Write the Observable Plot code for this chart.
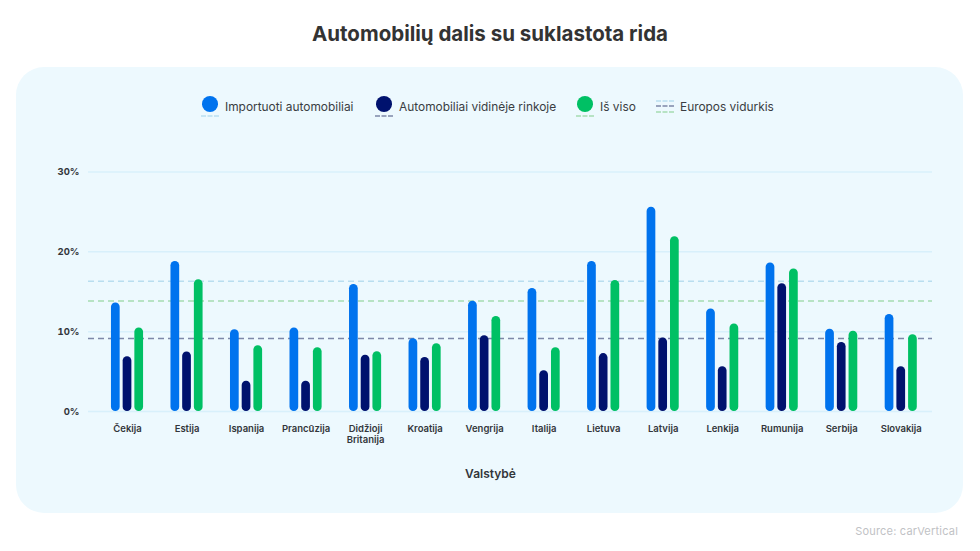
<!DOCTYPE html>
<html lang="lt">
<head>
<meta charset="utf-8">
<script src="https://cdn.jsdelivr.net/npm/d3@7"></script>
<script src="https://cdn.jsdelivr.net/npm/@observablehq/plot@0.6"></script>
<style>
  html, body { margin: 0; padding: 0; background: #fff; }
  body { font-family: Inter, "Noto Sans", sans-serif; }
  #wrap { position: relative; width: 980px; height: 551px; overflow: hidden; }
  #panel { position: absolute; left: 16px; top: 67px; width: 947px; height: 446px; border-radius: 28px; background: #edf9fe; }
  #title { position: absolute; left: 0; width: 980px; top: 20px; text-align: center; font-size: 20.5px; line-height: 28px; font-weight: 700; color: #333; }
  #source { position: absolute; right: 22px; top: 523px; font-size: 11px; line-height: 16px; color: #bfc2c5; letter-spacing: .2px; }
  #chart { position: absolute; left: 0; top: 0; }
  #chart svg { background: transparent; display: block; }
  .lg { position: absolute; top: 96px; height: 24px; }
  .lg i { position: absolute; left: 0; top: 0; width: 16px; height: 15.5px; border-radius: 50%; }
  .lg span { position: absolute; top: 1.5px; line-height: 18px; font-size: 11.9px; color: #3a3d42; white-space: nowrap; }
  .lg svg { position: absolute; overflow: visible; }
</style>
</head>
<body>
<div id="wrap">
  <div id="panel"></div>
  <div id="title">Automobilių dalis su suklastota rida</div>
  <div id="chart"></div>
  <div id="legend"></div>
  <div id="source">Source: carVertical</div>
</div>
<script>
const countries = ["Čekija","Estija","Ispanija","Prancūzija","Didžioji\nBritanija","Kroatija","Vengrija","Italija","Lietuva","Latvija","Lenkija","Rumunija","Serbija","Slovakija"];
const imported = [13.6,18.8,10.25,10.45,15.9,9.1,13.8,15.4,18.8,25.6,12.85,18.6,10.3,12.15];
const domestic = [6.85,7.45,3.8,3.8,7.05,6.75,9.5,5.1,7.25,9.2,5.6,16.0,8.65,5.6];
const total = [10.45,16.5,8.25,8.0,7.5,8.5,11.9,8.0,16.4,21.9,10.95,17.85,10.05,9.6];
const seriesNames = ["Importuoti automobiliai","Automobiliai vidinėje rinkoje","Iš viso"];
const seriesColors = ["#0073ee","#00126e","#00c064"];
const europeAvg = [16.3,9.15,13.85];
const avgColors = ["#b9deef","#7d88a8","#a5dcb1"];
const yTicks = [0,10,20,30];
const offsets = [-11.7,0,11.7];
const seriesValues = [imported,domestic,total];

const rows = vals => countries.map((c,i) => ({c, v: vals[i]}));
const plot = Plot.plot({
  width: 980, height: 551,
  marginLeft: 88, marginRight: 48, marginTop: 171.5, marginBottom: 140,
  style: {background: "transparent", fontFamily: "Inter, sans-serif"},
  x: {domain: countries, range: [97.25, 930.5], padding: 0, round: false, label: null},
  y: {domain: [0,30], label: null},
  marks: [
    Plot.ruleY(yTicks, {stroke: "#d8f0fb", strokeWidth: 1.5}),
    ...europeAvg.map((a,i) => Plot.ruleY([a], {stroke: avgColors[i], strokeWidth: 1.5, strokeDasharray: "6,4"})),
    ...seriesValues.map((vals,i) => Plot.barY(rows(vals), {
      x: "c", y: "v", fill: seriesColors[i], dx: offsets[i],
      insetLeft: 25.4, insetRight: 25.4, rx: 4.3
    })),
    Plot.axisY({ticks: yTicks, tickFormat: d => d + "%", tickSize: 0, tickPadding: 9, label: null,
      fontSize: 9.5, fontWeight: 700, fill: "#33363b"}),
    Plot.axisX({tickSize: 0, tickPadding: 12, label: null, lineHeight: 1.2, lineAnchor: "top",
      fontSize: 9.5, fontWeight: 600, fill: "#33363b"}),
    Plot.text(["Valstybė"], {frameAnchor: "bottom", dx: -20, dy: 66, fontSize: 12, fontWeight: 600, fill: "#33363b"})
  ]
});
document.getElementById("chart").appendChild(plot);

const legendItems = [
  {left: 201, color: 0},
  {left: 375, color: 1},
  {left: 576, color: 2}
];
const lg = document.getElementById("legend");
legendItems.forEach((it,i) => {
  const d = document.createElement("div");
  d.className = "lg";
  d.style.left = it.left + "px";
  d.innerHTML = `<i style="left:1px;background:${seriesColors[it.color]}"></i>
    <span style="left:24px">${seriesNames[i]}</span>
    <svg width="18" height="2" style="left:0;top:19px"><line x1="0" x2="18" y1="1" y2="1" stroke="${avgColors[i === 0 ? 0 : i === 1 ? 1 : 2]}" stroke-width="1.5" stroke-dasharray="5,1.5"/></svg>`;
  lg.appendChild(d);
});
const e = document.createElement("div");
e.className = "lg";
e.style.left = "656px";
e.innerHTML = `<span style="left:24px">Europos vidurkis</span>` + avgColors.map((c,i) =>
  `<svg width="18" height="2" style="left:0;top:${[4,9,15][i]}px"><line x1="0" x2="18" y1="1" y2="1" stroke="${c}" stroke-width="1.5" stroke-dasharray="5,1.5"/></svg>`).join("");
lg.appendChild(e);
</script>
</body>
</html>
